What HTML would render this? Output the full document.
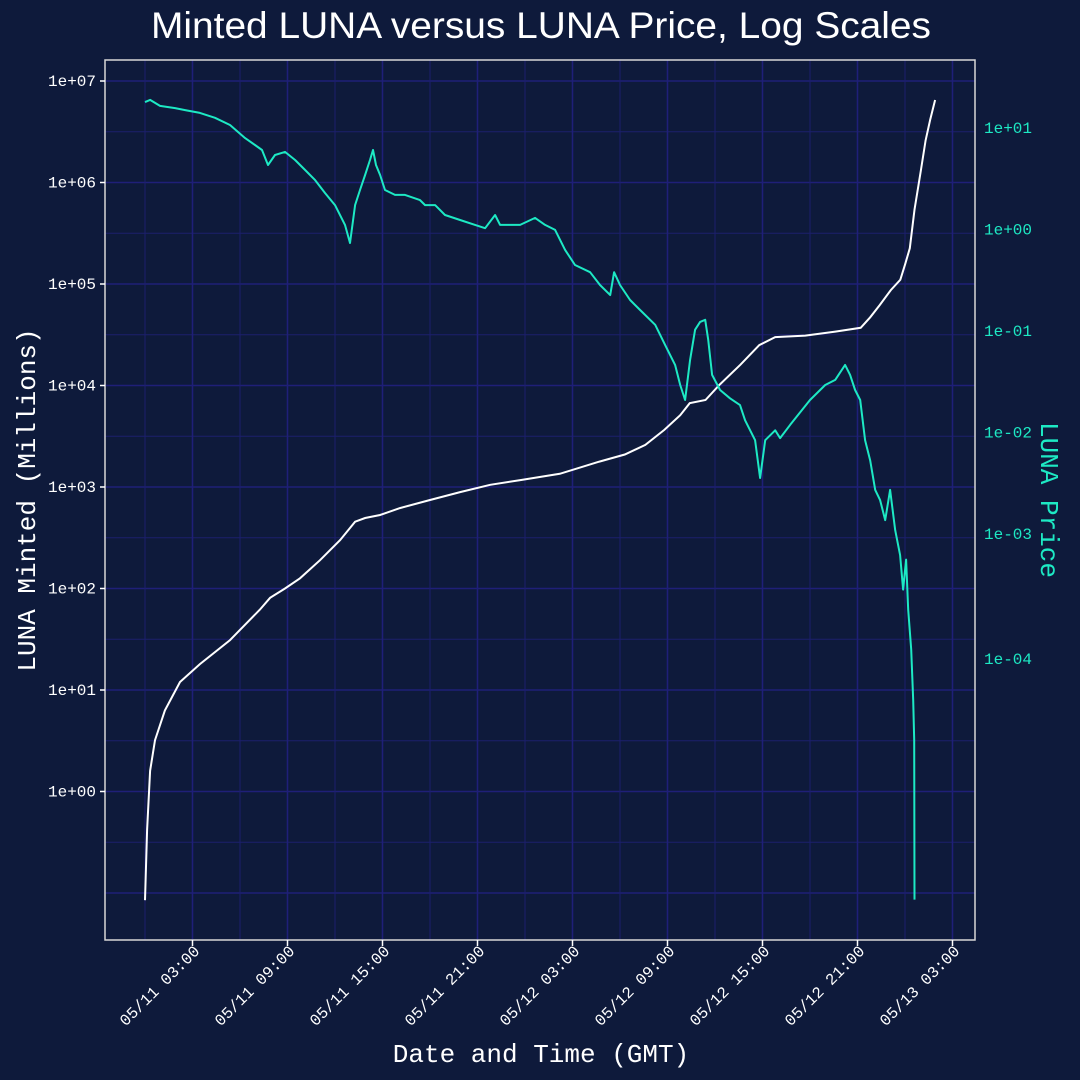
<!DOCTYPE html>
<html><head><meta charset="utf-8"><style>
html,body{margin:0;padding:0;background:#0e1a3b;}
svg{display:block;}
</style></head><body>
<svg id="chart" width="1080" height="1080" xmlns="http://www.w3.org/2000/svg">
<rect x="0" y="0" width="1080" height="1080" fill="#0e1a3b"/>
<text x="541" y="38" text-anchor="middle" textLength="780" lengthAdjust="spacingAndGlyphs" font-family="Liberation Sans, sans-serif" font-size="37" fill="#ffffff">Minted LUNA versus LUNA Price, Log Scales</text>
<g id="grid"></g>
<g id="marks"></g>
<g id="axes"></g>
<text transform="translate(35,500) rotate(-90)" text-anchor="middle" font-family="Liberation Mono, monospace" font-size="26" fill="#ffffff">LUNA Minted (Millions)</text>
<text transform="translate(1041,500) rotate(90)" text-anchor="middle" font-family="Liberation Mono, monospace" font-size="26" fill="#1de9c4">LUNA Price</text>
<text x="541" y="1062" text-anchor="middle" font-family="Liberation Mono, monospace" font-size="26" fill="#ffffff">Date and Time (GMT)</text>
</svg>
<script>
// hours since 05/11 00:00 GMT
const mintHours=[0,0.13,0.32,0.63,1.26,2.21,3.47,5.37,7.26,7.9,8.84,9.79,11.05,12.32,13.27,13.9,14.85,16.1,18.0,19.9,21.8,23.7,26.2,28.7,30.3,31.6,32.8,33.8,34.4,35.4,36.3,37.6,38.8,39.8,41.7,43.6,45.2,45.8,46.4,47.1,47.7,48.0,48.3,48.6,49.0,49.3,49.6,49.9];
const mintValues=[0.085,0.42,1.6,3.2,6.3,12,18,31,62,81,100,126,190,300,455,495,530,620,745,890,1050,1170,1350,1780,2090,2600,3650,5100,6700,7200,10200,16000,25000,30000,31000,34000,37000,47000,62000,87000,110000,155000,225000,540000,1300000,2600000,4200000,6500000];
const priceHours=[0,0.32,0.95,1.9,2.53,3.47,4.42,5.37,6.32,6.95,7.39,7.77,8.21,8.84,9.48,10.11,10.74,11.37,12.0,12.63,12.95,13.27,13.58,13.9,14.21,14.4,14.59,14.85,15.16,15.79,16.42,17.37,17.69,18.32,18.95,19.9,20.85,21.48,22.11,22.43,23.69,24.64,25.27,25.9,26.53,27.16,28.11,28.74,29.38,29.63,30.0,30.64,31.27,32.22,32.85,33.48,33.8,34.11,34.43,34.74,35.06,35.38,35.57,35.82,36.32,36.95,37.58,37.9,38.53,38.85,39.17,39.8,40.11,40.75,42.0,42.96,43.59,44.22,44.53,44.85,45.17,45.48,45.8,46.12,46.43,46.75,47.06,47.38,47.69,47.88,48.07,48.2,48.39,48.52,48.58,48.6];
const priceValues=[18.0,18.9,16.5,15.7,15.0,14.1,12.6,10.7,7.96,6.80,6.07,4.32,5.42,5.81,4.84,3.86,3.07,2.29,1.74,1.11,0.736,1.74,2.45,3.44,4.84,6.07,4.32,3.44,2.45,2.19,2.19,1.95,1.74,1.74,1.39,1.24,1.11,1.03,1.39,1.11,1.11,1.30,1.11,0.99,0.63,0.447,0.38,0.284,0.226,0.38,0.284,0.202,0.161,0.115,0.073,0.0463,0.0294,0.0209,0.052,0.103,0.123,0.129,0.082,0.0369,0.0262,0.0217,0.0186,0.0132,0.0084,0.00356,0.0084,0.0105,0.0088,0.0119,0.0209,0.0294,0.033,0.0463,0.0369,0.0262,0.0209,0.0084,0.0053,0.00272,0.00216,0.00137,0.00272,0.00109,0.00062,0.000283,0.00056,0.000179,0.000073,0.000023,0.0000093,0.00000025];
const xTickLabels=['05/11 03:00','05/11 09:00','05/11 15:00','05/11 21:00','05/12 03:00','05/12 09:00','05/12 15:00','05/12 21:00','05/13 03:00'];
const xTickHours=[3,9,15,21,27,33,39,45,51];
const yTickLabels=['1e+00','1e+01','1e+02','1e+03','1e+04','1e+05','1e+06','1e+07'];
const yTickValues=[1,10,100,1000,1e4,1e5,1e6,1e7];
const y2TickLabels=['1e-04','1e-03','1e-02','1e-01','1e+00','1e+01'];
const y2TickValues=[1e-4,1e-3,1e-2,1e-1,1,10];

const L=105,R=975,T=60,B=940;
const xs=h=>145+h*95/6;
const ys=v=>81+(7-Math.log10(v))*101.5;
const y2s=v=>128+(1-Math.log10(v))*101.5;
const NS='http://www.w3.org/2000/svg';
function mk(tag,attrs,parent,txt){const e=document.createElementNS(NS,tag);for(const k in attrs)e.setAttribute(k,attrs[k]);if(txt!==undefined)e.textContent=txt;parent.appendChild(e);return e;}
const grid=document.getElementById('grid'),marks=document.getElementById('marks'),axes=document.getElementById('axes');
mk('rect',{x:L,y:T,width:R-L,height:B-T,fill:'#0e1a3b'},grid);
for(let d=-1;d<=7;d++){
  const y=ys(Math.pow(10,d));
  if(y>T&&y<B){const g=mk('line',{x1:L,x2:R,y1:y,y2:y,stroke:'#1f1f78','stroke-width':1.6},grid);
  
  }
  const ym=y-101.5/2;
  if(ym>T&&ym<B){const g=mk('line',{x1:L,x2:R,y1:ym,y2:ym,stroke:'#1c1f6c','stroke-width':1},grid);
  
  }
}
for(let h=0;h<=54;h+=3){
  const x=xs(h); if(x<=L||x>=R) continue;
  const major=(h%6===3);
  const g=mk('line',{x1:x,x2:x,y1:T,y2:B,stroke:major?'#1f1f78':'#1c1f6c','stroke-width':major?1.6:1},grid);
  
  
}
let d='';mintHours.forEach((h,i)=>{d+=(i?'L':'M')+xs(h).toFixed(1)+' '+ys(mintValues[i]).toFixed(1);});
const mp=mk('path',{d:d,fill:'none',stroke:'#ffffff','stroke-width':2},marks);


d='';priceHours.forEach((h,i)=>{d+=(i?'L':'M')+xs(h).toFixed(1)+' '+y2s(priceValues[i]).toFixed(1);});
const pp=mk('path',{d:d,fill:'none',stroke:'#1de9c4','stroke-width':2,'stroke-linejoin':'round'},marks);


const fr=mk('rect',{x:L,y:T,width:R-L,height:B-T,fill:'none',stroke:'#d8d8d8','stroke-width':1.5},axes);


yTickValues.forEach((v,i)=>{const y=ys(v);
  mk('line',{x1:L-5,x2:L,y1:y,y2:y,stroke:'#fff','stroke-width':1.5},axes);
  const t=mk('text',{x:L-9,y:y+5,'text-anchor':'end','font-family':'Liberation Mono, monospace','font-size':16,fill:'#ffffff'},axes,yTickLabels[i]);
  
  
});
y2TickValues.forEach((v,i)=>{let y=y2s(v); if(v===1e-4) y=659;
  const t=mk('text',{x:984,y:y+5,'font-family':'Liberation Mono, monospace','font-size':16,fill:'#1de9c4'},axes,y2TickLabels[i]);
  
  
});
xTickHours.forEach((h,i)=>{const x=xs(h);
  mk('line',{x1:x,x2:x,y1:B,y2:B+6,stroke:'#fff','stroke-width':1.5},axes);
  const t=mk('text',{transform:`translate(${x+8},${B+12}) rotate(-45)`,'text-anchor':'end','font-family':'Liberation Mono, monospace','font-size':16,fill:'#ffffff'},axes,xTickLabels[i]);
  
  
});
</script>
</body></html>
